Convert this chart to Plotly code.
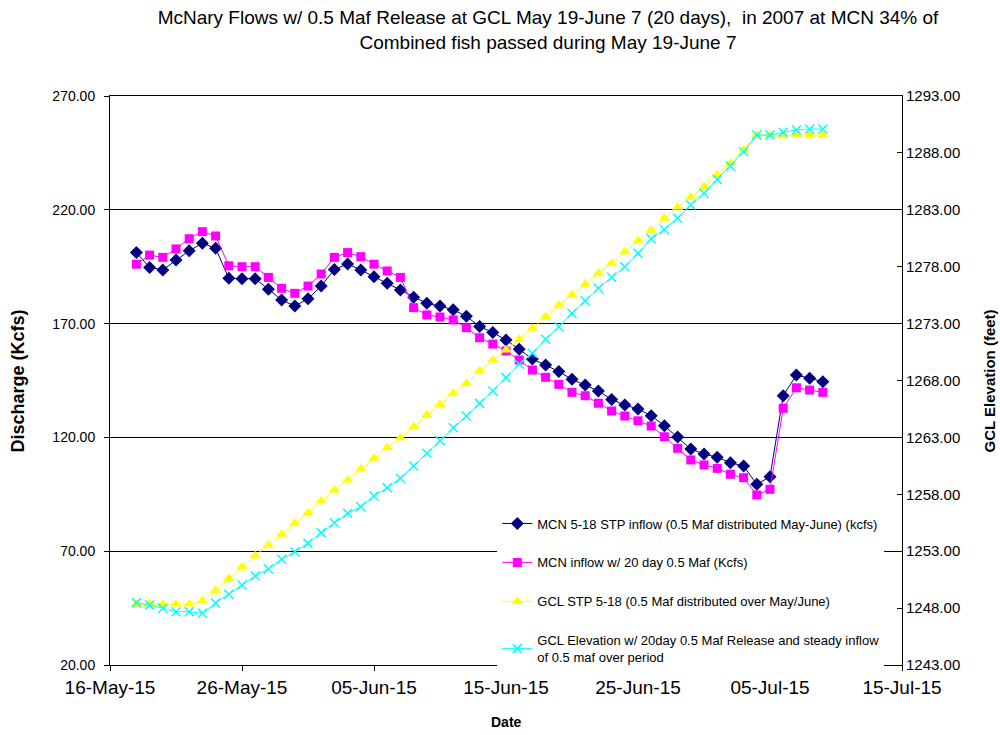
import pandas as pd
import plotly.graph_objects as go

# ---------------- data ----------------
start_date = "2015-05-18"
n_days = 53
dates = pd.date_range(start_date, periods=n_days, freq="D")

mcn_stp_inflow = [
    201.2, 194.7, 193.6, 197.9, 202.0, 205.3, 203.1, 189.9, 189.7, 189.7,
    185.1, 180.4, 177.7, 180.9, 186.5, 193.8, 196.2, 193.6, 190.6, 187.7,
    184.8, 181.6, 178.9, 177.7, 176.1, 173.2, 168.7, 166.1, 162.8, 158.7,
    154.4, 151.8, 148.9, 145.5, 143.0, 140.4, 136.7, 134.2, 132.5, 129.5,
    125.1, 120.2, 114.9, 112.7, 111.3, 108.9, 107.4, 99.4, 102.7, 138.3,
    147.4, 146.0, 144.5,
]
mcn_inflow_20day = [
    196.1, 200.1, 199.1, 202.8, 207.3, 210.4, 208.5, 195.4, 195.0, 195.0,
    190.3, 185.5, 183.3, 186.5, 191.8, 199.1, 201.2, 199.4, 196.1, 193.1,
    190.3, 177.0, 173.8, 172.9, 171.6, 168.2, 163.8, 161.0, 158.0, 154.0,
    149.6, 146.4, 143.3, 139.8, 138.3, 135.0, 131.6, 129.4, 127.3, 125.0,
    120.3, 115.2, 110.1, 107.9, 106.4, 103.8, 102.3, 94.7, 97.2, 132.8,
    141.8, 140.8, 139.8,
]
gcl_stp_elev = [
    1248.33, 1248.36, 1248.33, 1248.36, 1248.36, 1248.65, 1249.56, 1250.60, 1251.64, 1252.60,
    1253.55, 1254.49, 1255.45, 1256.38, 1257.41, 1258.38, 1259.26, 1260.22, 1261.16, 1262.09,
    1262.97, 1263.94, 1264.97, 1265.90, 1266.88, 1267.75, 1268.86, 1269.80, 1270.68, 1271.62,
    1272.59, 1273.61, 1274.63, 1275.51, 1276.48, 1277.42, 1278.30, 1279.32, 1280.28, 1281.20,
    1282.25, 1283.22, 1284.10, 1285.03, 1286.06, 1287.09, 1288.25, 1289.57, 1289.57, 1289.50,
    1289.57, 1289.57, 1289.57,
]
gcl_elev_20day = [
    1248.48, 1248.27, 1247.98, 1247.68, 1247.68, 1247.54, 1248.45, 1249.22, 1250.03, 1250.82,
    1251.44, 1252.29, 1252.96, 1253.69, 1254.63, 1255.50, 1256.33, 1256.91, 1257.85, 1258.58,
    1259.41, 1260.49, 1261.60, 1262.70, 1263.85, 1264.88, 1265.99, 1267.08, 1268.25, 1269.42,
    1270.39, 1271.62, 1272.73, 1273.91, 1275.01, 1276.10, 1277.07, 1278.00, 1279.18, 1280.45,
    1281.27, 1282.25, 1283.42, 1284.45, 1285.68, 1286.85, 1288.10, 1289.57, 1289.57, 1289.81,
    1290.01, 1290.10, 1290.10,
]

x_tick_dates = ["2015-05-16", "2015-05-26", "2015-06-05", "2015-06-15",
                "2015-06-25", "2015-07-05", "2015-07-15"]

series_names = [
    "MCN 5-18 STP inflow (0.5 Maf distributed May-June) (kcfs)",
    "MCN inflow w/ 20 day 0.5 Maf (Kcfs)",
    "GCL STP 5-18 (0.5 Maf distributed over May/June)",
    "GCL Elevation w/ 20day 0.5 Maf Release and steady inflow<br>of 0.5 maf over period",
]

title_text = ("McNary Flows w/ 0.5 Maf Release at GCL May 19-June 7 (20 days),  in 2007 at MCN 34% of"
              "<br>Combined fish passed during May 19-June 7")
x_title = "Date"
y_title = "Discharge (Kcfs)"
y2_title = "GCL Elevation (feet)"

FONT = "Liberation Sans, Arial, sans-serif"

# ---------------- figure ----------------
fig = go.Figure()

fig.add_trace(go.Scatter(
    x=dates, y=mcn_stp_inflow, name=series_names[0], mode="lines+markers",
    line=dict(color="#000080", width=1),
    marker=dict(symbol="diamond", size=10, color="#000080"),
    legendgroup="a",
))
fig.add_trace(go.Scatter(
    x=dates, y=mcn_inflow_20day, name=series_names[1], mode="lines+markers",
    line=dict(color="#FF00FF", width=1),
    marker=dict(symbol="square", size=9, color="#FF00FF"),
    legendgroup="b",
))
fig.add_trace(go.Scatter(
    x=dates, y=gcl_stp_elev, name=series_names[2], mode="lines+markers",
    line=dict(color="#FFFF00", width=1),
    marker=dict(symbol="triangle-up", size=10, color="#FFFF00"),
    yaxis="y2", legendgroup="c",
))
fig.add_trace(go.Scatter(
    x=dates, y=gcl_elev_20day, name=series_names[3], mode="lines+markers",
    line=dict(color="#00FFFF", width=1),
    marker=dict(symbol="x-thin", size=9, color="#00FFFF",
                line=dict(color="#00FFFF", width=1.5)),
    yaxis="y2", legendgroup="d",
))

fig.update_layout(
    width=1000, height=735,
    margin=dict(l=110, r=98, t=96, b=70, autoexpand=False),
    paper_bgcolor="white", plot_bgcolor="white",
    font=dict(family=FONT, size=13, color="black"),
    title=dict(text=title_text, x=0.548, xanchor="center", y=0.9673, yanchor="middle",
               font=dict(family=FONT, size=19, color="black")),
    showlegend=True,
    legend=dict(
        x=0.489, y=0.275, xanchor="left", yanchor="top",
        bgcolor="white", borderwidth=0,
        font=dict(family=FONT, size=13, color="black"),
        tracegroupgap=19, itemwidth=30,
    ),
    xaxis=dict(
        type="date", automargin=False,
        range=["2015-05-16", "2015-07-15"],
        tickvals=x_tick_dates, tickformat="%d-%b-%y",
        showgrid=False, zeroline=False,
        showline=True, linecolor="black", linewidth=1, mirror=True,
        ticks="outside", ticklen=5, tickcolor="black",
        tickfont=dict(family=FONT, size=19),
    ),
    yaxis=dict(
        automargin=False,
        range=[20, 270], tick0=20, dtick=50, tickformat=".2f",
        showgrid=True, gridcolor="black", gridwidth=1, zeroline=False,
        showline=True, linecolor="black", linewidth=1,
        ticks="outside", ticklen=5, tickcolor="black",
        tickfont=dict(family=FONT, size=14), ticklabelstandoff=6,
    ),
    yaxis2=dict(
        overlaying="y", side="right", automargin=False,
        range=[1243, 1293], tick0=1243, dtick=5, tickformat=".2f",
        showgrid=False, zeroline=False,
        showline=True, linecolor="black", linewidth=1,
        ticks="inside", ticklen=5, tickcolor="black",
        tickfont=dict(family=FONT, size=15),
    ),
    annotations=[
        dict(text="<b>%s</b>" % x_title, xref="paper", yref="paper",
             x=0.5, y=-0.1002, xanchor="center", yanchor="middle",
             showarrow=False, font=dict(family=FONT, size=14)),
        dict(text="<b>%s</b>" % y_title, xref="paper", yref="paper",
             x=-0.1162, y=0.5, xanchor="center", yanchor="middle", textangle=-90,
             showarrow=False, font=dict(family=FONT, size=18)),
        dict(text="<b>%s</b>" % y2_title, xref="paper", yref="paper",
             x=1.1111, y=0.5, xanchor="center", yanchor="middle", textangle=-90,
             showarrow=False, font=dict(family=FONT, size=15)),
    ],
)

fig.write_html("out.html", config={"displayModeBar": False},
               post_script="document.body.style.margin='0px';")
